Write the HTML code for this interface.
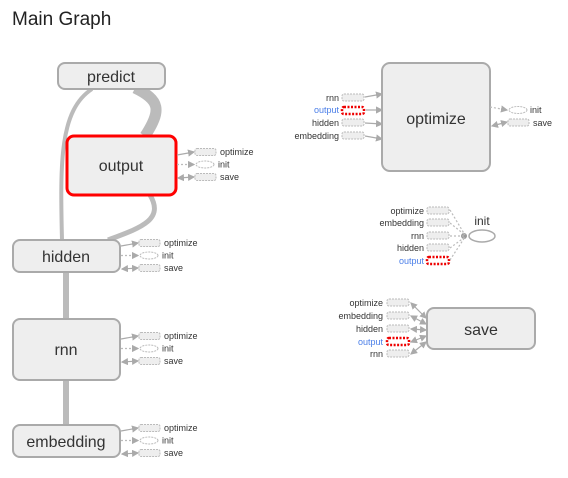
<!DOCTYPE html>
<html><head><style>
body{margin:0;background:#fff;width:568px;height:473px;overflow:hidden}
svg{font-family:"Liberation Sans",sans-serif}
.n{fill:#eee;stroke:#aaa;stroke-width:2}
.b{fill:#eee;stroke:#bbb;stroke-width:1;stroke-dasharray:2,1}
.r{fill:#fff;stroke:#e00;stroke-width:2.5;stroke-dasharray:2,1.5}
.l{font-size:9px;fill:#333}
.lb{font-size:9px;fill:#4a7ee8}
.e{stroke:#aaa;stroke-width:1.2;fill:none}
.d{stroke:#bbb;stroke-width:1.2;fill:none;stroke-dasharray:2,2}
</style></head><body>
<svg width="568" height="473" viewBox="0 0 568 473">
<defs><marker id="a" markerWidth="6" markerHeight="6" refX="5" refY="3" orient="auto"><path d="M0,0L6,3L0,6z" fill="#aaa"/></marker>
<marker id="s" markerWidth="6" markerHeight="6" refX="1" refY="3" orient="auto"><path d="M6,0L0,3L6,6z" fill="#aaa"/></marker>
<g id="aux">
<path class="e" d="M1,3 L18,0" marker-end="url(#a)"/>
<path class="d" d="M1,12.5 L18,12.5" marker-end="url(#a)"/>
<path class="e" d="M2,26 L18,25" marker-start="url(#s)" marker-end="url(#a)"/>
<rect class="b" x="19" y="-3.5" width="21" height="7" rx="2"/>
<ellipse cx="29" cy="12.5" rx="9" ry="3.5" fill="#fff" stroke="#bbb" stroke-dasharray="2,1"/>
<rect class="b" x="19" y="21.5" width="21" height="7" rx="2"/>
<text class="l" x="44" y="3">optimize</text>
<text class="l" x="42" y="15.5">init</text>
<text class="l" x="44" y="28">save</text>
</g></defs>
<text x="12" y="25" font-size="19" fill="#222">Main Graph</text>
<path d="M92,89 C60,110 60,160 62,240" stroke="#bbb" stroke-width="4" fill="none"/>
<path d="M135,88 C160,100 162,110 145,136" stroke="#bbb" stroke-width="11" fill="none"/>
<path d="M150,195 C165,220 140,228 108,240" stroke="#bbb" stroke-width="5" fill="none"/>
<rect x="63" y="272" width="6" height="47" fill="#bbb"/>
<rect x="63" y="380" width="6" height="45" fill="#bbb"/>
<rect class="n" x="58" y="63" width="107" height="26" rx="7"/>
<text x="111" y="82" font-size="16" text-anchor="middle" fill="#333">predict</text>
<rect x="67" y="136" width="109" height="59" rx="7" fill="#eee" stroke="#f00" stroke-width="3"/>
<text x="121" y="171" font-size="16" text-anchor="middle" fill="#333">output</text>
<rect class="n" x="13" y="240" width="107" height="32" rx="7"/>
<text x="66" y="262" font-size="16" text-anchor="middle" fill="#333">hidden</text>
<rect class="n" x="13" y="319" width="107" height="61" rx="7"/>
<text x="66" y="355" font-size="16" text-anchor="middle" fill="#333">rnn</text>
<rect class="n" x="13" y="425" width="107" height="32" rx="7"/>
<text x="66" y="447" font-size="16" text-anchor="middle" fill="#333">embedding</text>
<use href="#aux" x="176" y="152"/>
<use href="#aux" x="120" y="243"/>
<use href="#aux" x="120" y="336"/>
<use href="#aux" x="120" y="428"/>
<rect class="n" x="382" y="63" width="108" height="108" rx="8"/>
<text x="436" y="124" font-size="16" text-anchor="middle" fill="#333">optimize</text>
<g text-anchor="end">
<text class="l" x="339" y="101">rnn</text>
<text class="lb" x="339" y="113">output</text>
<text class="l" x="339" y="126">hidden</text>
<text class="l" x="339" y="139">embedding</text>
</g>
<rect class="b" x="342" y="94" width="22" height="7" rx="2"/>
<rect class="r" x="342" y="107" width="22" height="7" rx="2"/>
<rect class="b" x="342" y="119" width="22" height="7" rx="2"/>
<rect class="b" x="342" y="132" width="22" height="7" rx="2"/>
<path class="e" d="M365,97 L382,94" marker-end="url(#a)"/>
<path class="e" d="M366,110 L382,110" marker-end="url(#a)"/>
<path class="e" d="M365,123 L382,124" marker-end="url(#a)"/>
<path class="e" d="M365,136 L382,139" marker-end="url(#a)"/>
<path class="d" d="M490,107 L507,110" marker-end="url(#a)"/>
<path class="e" d="M492,126 L507,122" marker-start="url(#s)" marker-end="url(#a)"/>
<ellipse cx="518" cy="110" rx="9" ry="3.5" fill="#fff" stroke="#bbb" stroke-dasharray="2,1"/>
<rect class="b" x="508" y="119" width="21" height="7" rx="2"/>
<text class="l" x="530" y="113">init</text>
<text class="l" x="533" y="126">save</text>
<text x="482" y="225" font-size="12" text-anchor="middle" fill="#333">init</text>
<ellipse cx="482" cy="236" rx="13" ry="6" fill="#fff" stroke="#aaa" stroke-width="1.5"/>
<circle cx="464" cy="236" r="3" fill="#999"/>
<g text-anchor="end">
<text class="l" x="424" y="214">optimize</text>
<text class="l" x="424" y="226">embedding</text>
<text class="l" x="424" y="239">rnn</text>
<text class="l" x="424" y="251">hidden</text>
<text class="lb" x="424" y="264">output</text>
</g>
<rect class="b" x="427" y="207" width="22" height="7" rx="2"/>
<rect class="b" x="427" y="219" width="22" height="7" rx="2"/>
<rect class="b" x="427" y="232" width="22" height="7" rx="2"/>
<rect class="b" x="427" y="244" width="22" height="7" rx="2"/>
<rect class="r" x="427" y="257" width="22" height="7" rx="2"/>
<g class="d"><path d="M450,210 L465,235"/><path d="M450,223 L465,235"/><path d="M450,236 L465,236"/><path d="M450,248 L465,237"/><path d="M450,260 L465,237"/></g>
<rect class="n" x="427" y="308" width="108" height="41" rx="7"/>
<text x="481" y="335" font-size="16" text-anchor="middle" fill="#333">save</text>
<g text-anchor="end">
<text class="l" x="383" y="306">optimize</text>
<text class="l" x="383" y="319">embedding</text>
<text class="l" x="383" y="332">hidden</text>
<text class="lb" x="383" y="345">output</text>
<text class="l" x="383" y="357">rnn</text>
</g>
<rect class="b" x="387" y="299" width="22" height="7" rx="2"/>
<rect class="b" x="387" y="312" width="22" height="7" rx="2"/>
<rect class="b" x="387" y="325" width="22" height="7" rx="2"/>
<rect class="r" x="387" y="338" width="22" height="7" rx="2"/>
<rect class="b" x="387" y="350" width="22" height="7" rx="2"/>
<path class="e" d="M411,303 L426,318" marker-start="url(#s)" marker-end="url(#a)"/>
<path class="e" d="M411,316 L426,324" marker-start="url(#s)" marker-end="url(#a)"/>
<path class="e" d="M411,329 L426,330" marker-start="url(#s)" marker-end="url(#a)"/>
<path class="e" d="M411,342 L426,336" marker-start="url(#s)" marker-end="url(#a)"/>
<path class="e" d="M411,354 L426,342" marker-start="url(#s)" marker-end="url(#a)"/>
</svg>
</body></html>
